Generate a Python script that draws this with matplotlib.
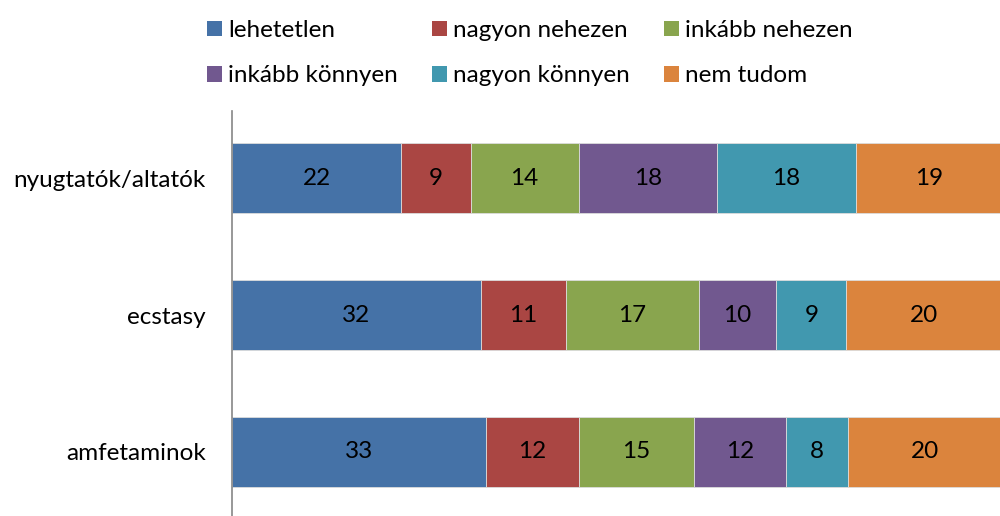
import numpy as np
import matplotlib.pyplot as plt
from matplotlib.patches import Patch

plt.rcParams['font.family'] = ['Lato', 'DejaVu Sans']

# kategóriák (felülről lefelé)
categories = ['nyugtatók/altatók', 'ecstasy', 'amfetaminok']
series = ['lehetetlen', 'nagyon nehezen', 'inkább nehezen',
          'inkább könnyen', 'nagyon könnyen', 'nem tudom']
colors = ['#4572A7', '#AA4643', '#89A54E', '#71588F', '#4198AF', '#DB843D']

lehetetlen = [22, 32, 33]
nagyon_nehezen = [9, 11, 12]
inkabb_nehezen = [14, 17, 15]
inkabb_konnyen = [18, 10, 12]
nagyon_konnyen = [18, 9, 8]
nem_tudom = [19, 20, 20]

values = np.array([lehetetlen, nagyon_nehezen, inkabb_nehezen,
                   inkabb_konnyen, nagyon_konnyen, nem_tudom], dtype=float)
# 100%-os halmozott sáv: soronként normálva
shares = values / values.sum(axis=0) * 100

FS = 17.5

fig = plt.figure(figsize=(10, 5.16), dpi=100)
ax = fig.add_axes([0.232, -3 / 516, 0.77, 408 / 516])

y = np.arange(len(categories))
left = np.zeros(len(categories))
for i, name in enumerate(series):
    bars = ax.barh(y, shares[i], left=left, height=70 / 137, color=colors[i],
                   edgecolor='#dcdcdc', linewidth=0.6, label=name)
    for j, b in enumerate(bars):
        ax.text(left[j] + shares[i][j] / 2, y[j], f'{int(values[i][j])}',
                ha='center', va='center', fontsize=FS, color='black')
    left += shares[i]

ax.set_xlim(0, 100)
ax.set_ylim(len(categories) - 1 + 0.49, -0.49)
ax.set_yticks(y)
ax.set_yticklabels(categories, fontsize=FS)
ax.tick_params(axis='y', length=0, pad=19)
ax.set_xticks([])
for s in ['top', 'right', 'bottom']:
    ax.spines[s].set_visible(False)
ax.spines['left'].set_color('#868686')
ax.spines['left'].set_linewidth(1.2)

# jelmagyarázat soronként kitöltve
handles = [Patch(facecolor=c, label=n) for c, n in zip(colors, series)]
order = [0, 3, 1, 4, 2, 5]
fig.legend([handles[k] for k in order], [series[k] for k in order],
           ncol=3, loc='upper left', bbox_to_anchor=(0.207, 0.961),
           borderaxespad=0, borderpad=0,
           frameon=False, fontsize=FS, handlelength=0.62, handleheight=0.62,
           handletextpad=0.25, columnspacing=1.4, labelspacing=1.0)

fig.savefig('out.png', dpi=100)
